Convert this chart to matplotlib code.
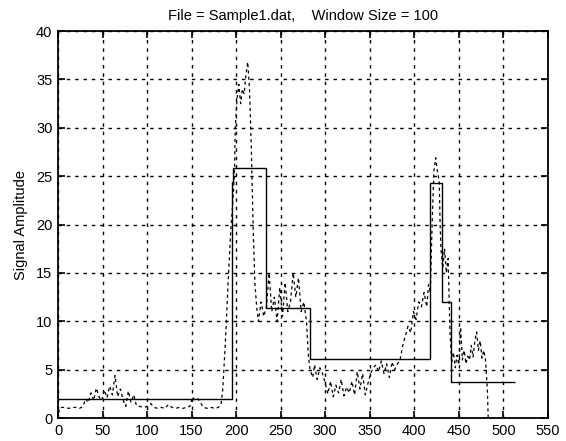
import matplotlib
matplotlib.use("Agg")
import matplotlib.pyplot as plt

plt.rcParams['font.family'] = ['Liberation Sans', 'DejaVu Sans']

# Raw signal (dashed)
sig_x = [0, 4, 8, 12, 16, 20, 24, 28, 31, 34, 37, 40, 43, 46, 49, 52, 55, 58, 61, 64, 67, 70, 73, 76, 79, 82, 85, 88, 92,
         96, 100, 104, 108, 112, 116, 120, 124, 128, 132, 136, 140, 144, 148, 151, 154, 157, 160, 163, 168, 172, 176, 180,
         183, 185, 188, 191, 194, 196, 198, 199, 201, 203, 205, 207, 209, 211, 213, 215, 217, 219, 221, 223, 225, 228,
         231, 234, 237, 240, 243, 246, 249, 252, 255, 258, 261, 264, 267, 270, 273, 276, 279, 281, 283, 286, 288, 291,
         294, 297, 300, 303, 306, 309, 312, 315, 318, 321, 324, 327, 330, 333, 336, 339, 342, 345, 348, 351, 354, 357,
         360, 363, 366, 369, 372, 375, 378, 381, 384, 387, 390, 393, 396, 399, 402, 405, 408, 411, 414, 416, 418, 420,
         422, 424, 426, 428, 429, 430, 432, 434, 436, 438, 440, 442, 444, 446, 448, 450, 452, 454, 456, 458, 460, 462,
         464, 466, 468, 470, 472, 474, 476, 478, 480, 482, 483]
sig_y = [0.5, 1.1, 1.1, 1.0, 1.1, 1.1, 1.0, 1.2, 2.0, 1.6, 2.6, 1.8, 3.1, 2.2, 1.8, 2.9, 2.1, 3.3, 2.4, 4.4, 2.2, 3.0,
         1.9, 1.2, 2.8, 1.6, 2.4, 1.3, 1.2,
         1.1, 1.2, 1.5, 1.1, 1.0, 1.1, 1.0, 1.4, 1.1, 1.0, 1.1, 1.0, 1.1, 1.2, 2.2, 1.8, 2.0, 1.6, 1.1, 1.0, 1.1, 1.0, 1.1,
         1.4, 3.0, 8.0, 14.0, 19.5, 22.0, 25.0, 30.0, 33.0, 34.5, 32.5, 34.0, 33.5, 35.5, 36.8, 34.0, 28.0, 20.0, 14.0,
         11.5, 10.0, 12.0,
         10.5, 11.5, 15.0, 11.0, 12.5, 10.0, 13.5, 10.5, 14.0, 11.0, 12.0, 15.0, 12.5, 14.5, 11.0, 12.0, 10.0, 6.5, 5.0,
         4.2, 5.5, 4.0,
         5.2, 4.6, 3.6, 2.5, 3.8, 2.2, 3.4, 2.6, 4.0, 2.3, 3.2, 2.6, 3.8, 2.4, 4.8, 3.0, 4.6, 2.4, 3.6, 4.6, 5.2, 5.5,
         4.8, 5.9, 4.6, 5.6, 4.2, 5.8, 5.0, 5.6, 6.0, 7.5, 8.5, 9.5, 8.8, 11.0, 10.2, 12.0, 11.5, 13.0, 11.5, 13.8, 13.0,
         20.0,
         25.5, 26.9, 25.5, 24.5, 20.0, 17.4, 15.5, 17.5, 15.0, 16.5, 9.0, 5.7, 6.8, 5.2, 6.5, 5.5, 9.4, 6.0, 7.0, 5.6,
         6.4, 6.0,
         7.5, 6.3, 8.0, 8.9, 7.0, 8.0, 6.2, 7.0, 6.0, 3.0, 0.0]

# Windowed average (solid step line)
step_edges = [0, 195, 197, 233, 283, 418, 431, 441, 513]
step_levels = [2.0, 24.4, 25.8, 11.4, 6.1, 24.3, 12.0, 3.7]

x_ticks = [0, 50, 100, 150, 200, 250, 300, 350, 400, 450, 500, 550]
y_ticks = [0, 5, 10, 15, 20, 25, 30, 35, 40]

fig = plt.figure(figsize=(5.66, 4.41), dpi=100)
ax = fig.add_axes([0.1025, 0.052, 0.8655, 0.8775])

ax.plot(sig_x, sig_y, color='black', lw=0.9, linestyle=(0, (2.5, 2.5)))
ax.stairs(step_levels, step_edges, baseline=None, color='black', lw=1.0)

ax.set_xlim(0, 550)
ax.set_ylim(0, 40)
ax.set_xticks(x_ticks)
ax.set_yticks(y_ticks)
ax.grid(True, color='black', linestyle=(0, (2.5, 3.5)), lw=1.0)
ax.tick_params(direction='in', length=5, width=1.2, top=True, right=True,
               labelsize=10.5, pad=4, colors='black')
for s in ax.spines.values():
    s.set_linewidth(1.3)

ax.set_title('File = Sample1.dat,    Window Size = 100', fontsize=10.5, pad=8)
ax.set_ylabel('Signal Amplitude', fontsize=10.5, labelpad=6)

fig.savefig('out.png', dpi=100)
